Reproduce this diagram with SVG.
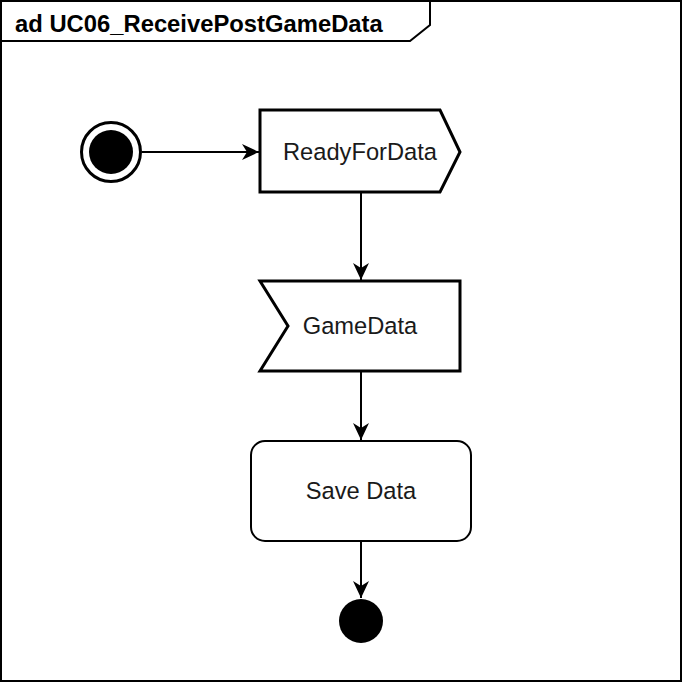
<svg xmlns="http://www.w3.org/2000/svg" width="682" height="682" viewBox="0 0 682 682">
<style>
.lbl{font-family:"Liberation Sans",Arial,sans-serif;font-size:23.7px;fill:#1a1a1a;text-anchor:middle;dominant-baseline:central}
.edge{stroke:#000;stroke-width:2;fill:none}
.thick{stroke:#000;stroke-width:3;fill:#fff}
</style>
<defs>
<marker id="arr" markerUnits="userSpaceOnUse" markerWidth="20" markerHeight="20" viewBox="-18 -10 20 20" refX="0" refY="0" orient="auto">
<path d="M0,0 L-17,-8 L-12,0 L-17,8 Z" fill="#000"/>
</marker>
</defs>
<g id="frame">
<rect x="1" y="1" width="680" height="680" fill="#fff" stroke="#000" stroke-width="2"/>
<path d="M1,1 H430 V25 L410,41 H1" fill="none" stroke="#000" stroke-width="2"/>
<text x="15" y="23" font-family="'Liberation Sans',Arial,sans-serif" font-size="23.8" font-weight="bold" dominant-baseline="central" fill="#000">ad UC06_ReceivePostGameData</text>
</g>
<g id="connectors">
<line class="edge" x1="142" y1="152" x2="259" y2="152" marker-end="url(#arr)"/>
<line class="edge" x1="361" y1="192" x2="361" y2="280" marker-end="url(#arr)"/>
<line class="edge" x1="361" y1="371" x2="361" y2="440" marker-end="url(#arr)"/>
<line class="edge" x1="361" y1="541" x2="361" y2="598" marker-end="url(#arr)"/>
</g>
<g id="initial">
<circle cx="111" cy="152" r="29.5" fill="#fff" stroke="#000" stroke-width="3"/>
<circle cx="111" cy="152" r="22" fill="#000"/>
</g>
<g id="ReadyForData">
<path class="thick" d="M260,110 H440 L460,152 L440,192 H260 Z"/>
<text class="lbl" x="360" y="152">ReadyForData</text>
</g>
<g id="GameData">
<path class="thick" d="M260,281 H460 V371 H260 L288,326 Z"/>
<text class="lbl" x="360" y="326">GameData</text>
</g>
<g id="SaveData">
<rect x="251" y="441" width="220" height="100" rx="14" ry="14" fill="#fff" stroke="#000" stroke-width="2"/>
<text class="lbl" x="361" y="491">Save Data</text>
</g>
<g id="final">
<circle cx="361" cy="621" r="22" fill="#000"/>
</g>
</svg>
